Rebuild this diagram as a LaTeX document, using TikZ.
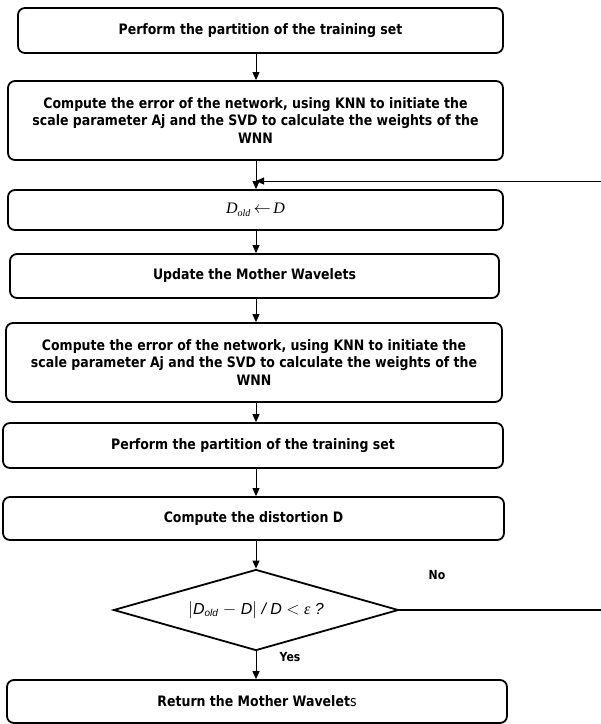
\documentclass[tikz,border=0pt]{standalone}
\usepackage{fontspec}
\setmainfont{DejaVu Sans}[FakeStretch=0.87]
\newfontfamily\tnr{Liberation Serif}
\newfontfamily\arl{Liberation Sans}
\usetikzlibrary{shapes.geometric,arrows.meta}
\begin{document}
\begin{tikzpicture}[x=1pt,y=-1pt,
  box/.style={draw, line width=1.8pt, rounded corners=7pt, font=\bfseries\fontsize{14.4}{17.5}\selectfont, align=center, inner sep=0pt},
  arr/.style={-{Triangle[length=8pt,width=7pt]}, line width=1pt},
  lbl/.style={font=\bfseries\fontsize{12.5}{15}\selectfont}]
\useasboundingbox (0,0) rectangle (601,724);
\node[box, minimum width=485pt, minimum height=45pt] (b1) at (260.5,30.5) {Perform the partition of the training set};
\node[box, minimum width=495pt, minimum height=79pt] (b2) at (255.5,120.5) {Compute the error of the network, using KNN to initiate the\\ scale parameter Aj and the SVD to calculate the weights of the\\ WNN};
\node[box, minimum width=495pt, minimum height=40pt] (b3) at (255.5,210) {\fontsize{16}{16}\selectfont\tnr\mdseries\itshape D$_{\mbox{\fontsize{10}{10}\selectfont\tnr\itshape old}}$\,$\leftarrow$\,D};
\node[box, minimum width=489pt, minimum height=44pt] (b4) at (254.5,276) {Update the Mother Wavelets};
\node[box, minimum width=496pt, minimum height=79pt] (b5) at (254,362.5) {Compute the error of the network, using KNN to initiate the\\ scale parameter Aj and the SVD to calculate the weights of the\\ WNN};
\node[box, minimum width=500pt, minimum height=45pt] (b6) at (253,445.5) {Perform the partition of the training set};
\node[box, minimum width=501pt, minimum height=43pt] (b7) at (253.5,518.5) {Compute the distortion D};
\node[draw, line width=1.8pt, diamond, aspect=3.52, minimum width=285pt, minimum height=81pt, inner sep=0pt] (d) at (256,610)
  {\fontsize{16}{16}\selectfont\arl\itshape $\bigl|$D$_{\mbox{\fontsize{10}{10}\selectfont\arl\itshape old}}$ $-$ D$\bigr|$ / D $<$ {\tnr ε} ?};
\node[box, minimum width=500pt, minimum height=43pt] (b8) at (257,701.5) {Return the Mother Wavelet{\mdseries s}};
\coordinate (ax) at (256,0);
\coordinate (loopin) at (601,181);
\coordinate (noout) at (601,610);
\draw[arr] (b1.south -| ax) -- (b2.north -| ax);
\draw[arr] (b2.south -| ax) -- (b3.north -| ax);
\draw[arr] (b3.south -| ax) -- (b4.north -| ax);
\draw[arr] (b4.south -| ax) -- (b5.north -| ax);
\draw[arr] (b5.south -| ax) -- (b6.north -| ax);
\draw[arr] (b6.south -| ax) -- (b7.north -| ax);
\draw[arr] (b7.south -| ax) -- (d.north);
\draw[arr] (d.south) -- (b8.north -| ax);
\draw[arr] (loopin) -- (ax |- loopin);
\draw[line width=1.3pt] (d.east) -- (noout);
\node[lbl] (no) at (437,575) {No};
\node[lbl] (yes) at (290,657) {Yes};
\end{tikzpicture}
\end{document}
